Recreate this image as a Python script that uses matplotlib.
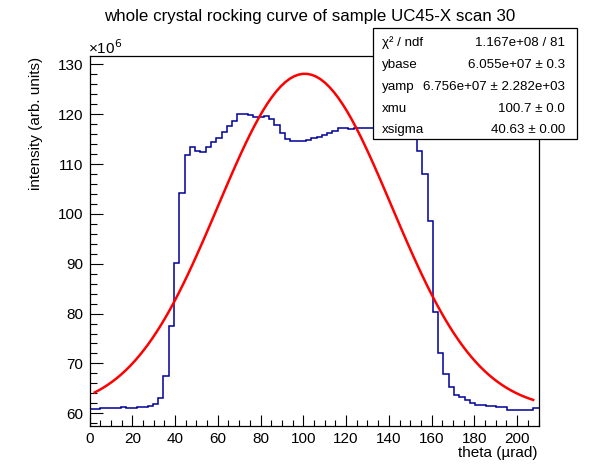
import numpy as np
import matplotlib
matplotlib.use("Agg")
import matplotlib.pyplot as plt
from matplotlib.ticker import MultipleLocator

plt.rcParams['font.family'] = ['Liberation Sans', 'DejaVu Sans']

# ---- data ----
theta_min, theta_max, n_bins = 0.0, 210.0, 85
intensity_e6 = [
    60.88, 60.88, 61.08, 61.08, 61.08, 61.08, 61.28, 61.08, 61.08, 61.28,
    61.28, 61.48, 61.88, 63.09, 67.50, 77.45, 90.17, 104.2, 111.8, 113.4,
    112.7, 112.4, 113.4, 114.4, 115.2, 116.4, 117.7, 118.7, 120.06, 120.06,
    119.86, 119.5, 119.5, 119.66, 119.1, 117.9, 116.25, 115.05, 114.7, 114.7,
    114.7, 114.9, 115.2, 115.5, 115.85, 116.25, 116.6, 117.25, 117.25, 117.05,
    117.25, 117.25, 117.25, 117.25, 117.3, 117.3, 117.2, 117.0, 116.8, 116.5,
    116.2, 115.8, 112.7, 108.0, 98.65, 80.4, 72.0, 67.9, 65.2, 63.75,
    63.2, 62.7, 62.1, 61.75, 61.75, 61.55, 61.4, 61.2, 61.2, 60.74,
    60.74, 60.74, 60.74, 60.74, 61.14,
]

# fit parameters (from the stats box)
ybase = 6.055e7
yamp = 6.756e7
xmu = 100.7
xsigma = 40.63
fit_lo, fit_hi = 2.47, 207.5

title = "whole crystal rocking curve of sample UC45-X scan 30"
xlabel = "theta (µrad)"
ylabel = "intensity (arb. units)"
stats_labels = ["χ² / ndf", "ybase", "yamp", "xmu", "xsigma"]
stats_values = ["1.167e+08 / 81", "6.055e+07 ± 0.3", "6.756e+07 ± 2.282e+03",
                "100.7 ± 0.0", "40.63 ± 0.00"]

# ---- figure ----
W, H = 598, 474
fig = plt.figure(figsize=(W / 100, H / 100), dpi=100)
fig.patch.set_facecolor("white")

L, R, T, B = 89.5, 538.5, 56.0, 425.5
ax = fig.add_axes([L / W, 1 - B / H, (R - L) / W, (B - T) / H])

edges = np.linspace(theta_min, theta_max, n_bins + 1)
ax.stairs(np.array(intensity_e6), edges, baseline=None, color="#000099", linewidth=1.1)

xf = np.linspace(fit_lo, fit_hi, 100)
yf = (ybase + yamp * np.exp(-0.5 * ((xf - xmu) / xsigma) ** 2)) / 1e6
ax.plot(xf, yf, color="#ff0000", linewidth=1.8)

ax.set_xlim(theta_min, theta_max)
ax.set_ylim(57.55, 131.67)

ax.xaxis.set_major_locator(MultipleLocator(20))
ax.xaxis.set_minor_locator(MultipleLocator(5))
ax.yaxis.set_major_locator(MultipleLocator(10))
ax.yaxis.set_minor_locator(MultipleLocator(2))
ax.tick_params(axis="x", which="major", direction="in", length=7.9, width=0.8, labelsize=11, pad=4.5)
ax.tick_params(axis="x", which="minor", direction="in", length=4.0, width=0.8)
ax.tick_params(axis="y", which="major", direction="in", length=9.7, width=0.8, labelsize=11, pad=4.5)
ax.tick_params(axis="y", which="minor", direction="in", length=4.9, width=0.8)
for s in ax.spines.values():
    s.set_linewidth(0.9)

fig.text(88 / W, 1 - 54 / H, "×10$^{6}$", fontsize=11, ha="left", va="baseline")
fig.text(310 / W, 1 - 16 / H, title, fontsize=12.2, ha="center", va="center")
fig.text(538 / W, 1 - 453 / H, xlabel, fontsize=11, ha="right", va="center")
fig.text(36 / W, 1 - 123 / H, ylabel, fontsize=11, ha="center", va="center", rotation=90)

# stats box
bx0, bx1, by0, by1 = 373, 577, 28, 139
box = plt.Rectangle((bx0 / W, 1 - by1 / H), (bx1 - bx0) / W, (by1 - by0) / H,
                    transform=fig.transFigure, facecolor="white", edgecolor="black",
                    linewidth=0.9, zorder=5)
fig.patches.append(box)
row_y = [43, 65, 87, 108.5, 130]
for yc, lab, val in zip(row_y, stats_labels, stats_values):
    fig.text((bx0 + 9) / W, 1 - yc / H, lab, fontsize=9.6, ha="left", va="center", zorder=6)
    fig.text((bx1 - 12) / W, 1 - yc / H, val, fontsize=9.6, ha="right", va="center", zorder=6)

fig.savefig("out.png", dpi=100)
